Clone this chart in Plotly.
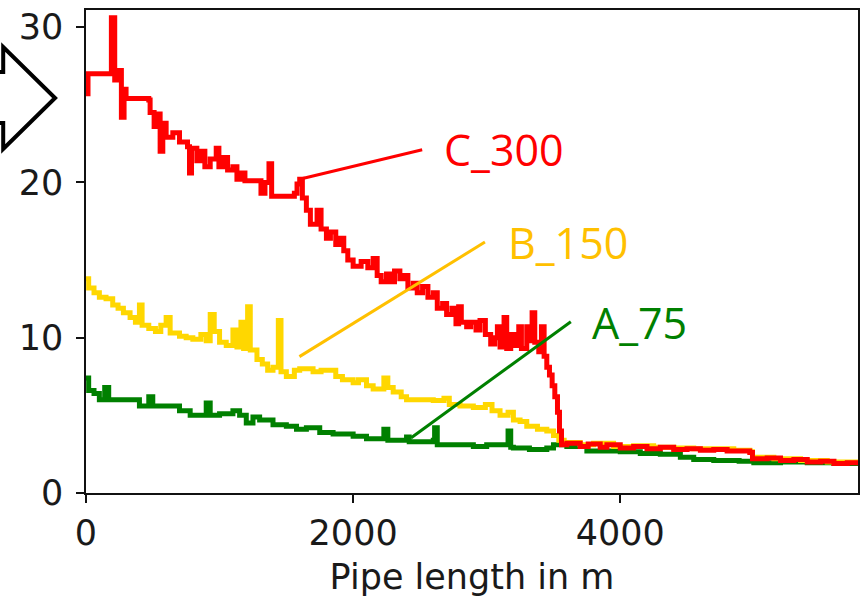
import plotly.graph_objects as go

# ---------------- data ----------------
x_c300 = [0, 15, 190, 215, 250, 265, 285, 300, 470, 480, 510, 540, 555, 575, 600, 650, 700, 760, 775, 790,
          830, 860, 890, 930, 975, 995, 1030, 1060, 1100, 1130, 1160, 1190, 1290, 1310, 1340, 1370, 1390, 1560,
          1580, 1600, 1620, 1650, 1680, 1730, 1760, 1800, 1830, 1870, 1900, 1930, 1960, 2000, 2060, 2110, 2150,
          2180, 2210, 2250, 2280, 2310, 2350, 2380, 2410, 2450, 2480, 2520, 2560, 2600, 2630, 2670, 2700, 2740,
          2770, 2790, 2810, 2850, 2880, 2920, 2950, 2990, 3030, 3060, 3080, 3100, 3130, 3150, 3180, 3210, 3240,
          3260, 3300, 3320, 3340, 3360, 3390, 3410, 3430, 3450, 3470, 3490, 3510, 3530, 3545, 3560, 3600, 3700,
          3760, 3850, 3900, 4000, 4100, 4200, 4300, 4400, 4500, 4600, 4700, 4800, 4900, 4970, 4990, 5100, 5200,
          5300, 5400, 5500, 5600, 5700, 5780]
y_c300 = [25.7, 27.0, 30.6, 26.6, 27.2, 24.2, 26.0, 25.4, 25.3, 24.5, 23.6, 24.4, 22.0, 23.8, 22.9, 23.2, 22.6,
          22.3, 20.6, 22.2, 21.4, 22.0, 21.0, 21.5, 22.2, 21.0, 21.6, 20.8, 21.0, 20.2, 20.6, 20.1, 20.1, 19.3,
          20.0, 21.2, 19.1, 19.3, 19.9, 20.2, 19.0, 18.2, 17.3, 18.2, 17.0, 16.4, 16.8, 16.0, 16.4, 15.6, 15.0,
          14.6, 14.9, 14.5, 15.1, 14.0, 13.6, 14.1, 13.6, 14.3, 13.8, 14.0, 13.2, 13.5, 12.9, 13.3, 12.6, 12.9,
          11.9, 12.2, 11.5, 11.9, 10.9, 12.0, 11.0, 10.7, 11.0, 10.5, 11.1, 10.2, 9.6, 10.0, 10.7, 9.4, 11.3,
          9.3, 10.2, 9.5, 10.7, 9.3, 10.7, 9.8, 11.6, 9.7, 9.1, 10.7, 8.8, 8.1, 7.6, 6.9, 6.2, 5.2, 4.0, 3.1,
          3.2, 3.0, 3.15, 2.95, 3.1, 2.9, 3.0, 2.85, 2.95, 2.8, 2.85, 2.75, 2.8, 2.7, 2.7, 2.6, 2.2, 2.25, 2.1,
          2.15, 2.0, 2.05, 1.9, 1.95, 1.85]

x_b150 = [0, 20, 60, 100, 150, 200, 240, 280, 330, 370, 400, 420, 470, 520, 560, 600, 630, 700, 750, 800,
          860, 900, 930, 960, 1000, 1050, 1100, 1130, 1160, 1180, 1210, 1230, 1280, 1320, 1360, 1400, 1440,
          1460, 1500, 1560, 1600, 1700, 1760, 1870, 1920, 2000, 2040, 2100, 2150, 2230, 2260, 2300, 2360, 2400,
          2500, 2600, 2680, 2720, 2800, 2900, 2990, 3040, 3100, 3160, 3200, 3250, 3300, 3380, 3450, 3500, 3540,
          3580, 3700, 3800, 3950, 4100, 4250, 4400, 4550, 4700, 4850, 4970, 4990, 5150, 5350, 5550, 5780]
y_b150 = [13.8, 13.2, 12.9, 12.6, 12.5, 12.1, 11.9, 11.6, 11.3, 11.0, 12.1, 10.8, 10.6, 10.4, 10.8, 11.3,
          10.3, 10.1, 10.0, 9.9, 10.2, 9.8, 11.5, 10.4, 9.7, 9.5, 10.5, 9.4, 11.0, 9.3, 12.0, 9.2, 8.6, 8.3,
          7.9, 8.1, 11.1, 7.8, 7.5, 7.9, 8.0, 7.8, 7.9, 7.5, 7.3, 7.1, 7.3, 6.9, 6.7, 7.4, 6.8, 6.5, 6.2, 6.0,
          6.0, 5.95, 6.1, 5.7, 5.6, 5.5, 5.7, 5.3, 5.0, 5.2, 4.7, 4.6, 4.3, 4.1, 4.0, 3.7, 3.4, 3.25, 3.1,
          3.2, 3.0, 3.05, 2.95, 2.9, 2.85, 2.85, 2.75, 2.65, 2.3, 2.2, 2.1, 2.0, 1.9]

x_a75 = [0, 20, 60, 100, 140, 170, 300, 400, 470, 500, 600, 700, 780, 900, 930, 1000, 1100, 1150, 1200,
         1250, 1300, 1400, 1500, 1576, 1650, 1750, 1850, 2000, 2100, 2230, 2260, 2350, 2400, 2420, 2600, 2610,
         2630, 2800, 2900, 3000, 3160, 3180, 3200, 3320, 3450, 3500, 3600, 3750, 4000, 4150, 4300, 4450, 4550,
         4700, 4890, 5000, 5200, 5400, 5600, 5780]
y_a75 = [7.4, 6.6, 6.4, 6.0, 6.8, 6.0, 6.0, 5.6, 6.2, 5.6, 5.6, 5.3, 5.0, 5.8, 5.0, 5.1, 5.3, 5.0, 4.5, 4.9,
         4.7, 4.4, 4.3, 4.1, 4.2, 3.9, 3.8, 3.65, 3.5, 4.1, 3.4, 3.4, 3.6, 3.3, 3.4, 4.2, 3.1, 3.1, 3.0, 3.1,
         4.0, 2.95, 2.9, 2.8, 2.9, 3.1, 3.0, 2.7, 2.65, 2.55, 2.5, 2.3, 2.15, 2.1, 2.05, 1.95, 2.0, 1.95, 1.9,
         1.85]

series_names = ["A_75", "B_150", "C_300"]
series_colors = ["#008000", "#FFD700", "#FF0000"]
label_colors = ["#008000", "#FFC000", "#FF0000"]
# leader lines: (start x, start y, end x, end y) in data units, label anchor (x, y)
leader_lines = [(2435, 3.56, 3630, 11.03), (1598, 8.78, 2987, 16.16), (1598, 20.2, 2517, 22.1)]
label_pos = [(3771, 10.95), (3144, 16.1), (2666, 22.1)]

x_ticks = [0, 2000, 4000]
y_ticks = [0, 10, 20, 30]
x_title = "Pipe length in m"

# ---------------- figure ----------------
fig = go.Figure()
for xs, ys, name, col in zip([x_a75, x_b150, x_c300], [y_a75, y_b150, y_c300], series_names, series_colors):
    fig.add_trace(go.Scatter(x=xs, y=ys, mode="lines", name=name,
                             line=dict(color=col, width=5, shape="hv")))

for (x0, y0, x1, y1), col in zip(leader_lines, label_colors):
    fig.add_shape(type="line", x0=x0, y0=y0, x1=x1, y1=y1, xref="x", yref="y",
                  line=dict(color=col, width=3))

for (lx, ly), name, col in zip(label_pos, series_names, label_colors):
    fig.add_annotation(x=lx, y=ly, xref="x", yref="y", text=name, showarrow=False,
                       xanchor="left", yanchor="middle",
                       font=dict(family="Open Sans", size=43, color=col))

# decorative block arrow at left edge (partly cut off), in pixel -> paper coords
L, R, T, B = 86, 860, 10, 493
def px(xp, yp):
    return (xp - L) / (R - L), (B - yp) / (B - T)
arrow_px = [(-10, 72), (3, 72), (3, 47), (55, 98), (3, 149), (3, 123), (-10, 123)]
pts = [px(a, b) for a, b in arrow_px]
path = "M " + " L ".join(f"{a:.5f},{b:.5f}" for a, b in pts)
fig.add_shape(type="path", path=path, xref="paper", yref="paper",
              line=dict(color="black", width=4), fillcolor="rgba(0,0,0,0)", layer="above")

axis_common = dict(showline=True, linecolor="#111", linewidth=1.5, mirror=True,
                   ticks="outside", ticklen=8, tickwidth=1.5, tickcolor="#111",
                   showgrid=False, zeroline=False,
                   tickfont=dict(family="DejaVu Sans", size=35, color="#1a1a1a"))

fig.update_layout(
    width=863, height=606,
    margin=dict(l=L, r=863 - R, t=T, b=606 - B),
    paper_bgcolor="white", plot_bgcolor="white",
    showlegend=False,
    xaxis=dict(range=[0, 5780], tickvals=x_ticks, **axis_common,
               title=dict(text=x_title, font=dict(family="DejaVu Sans", size=35, color="#1a1a1a"),
                          standoff=13)),
    yaxis=dict(range=[0, 31.1], tickvals=y_ticks, ticklabelstandoff=6, **axis_common),
)

fig.write_html("out.html")
